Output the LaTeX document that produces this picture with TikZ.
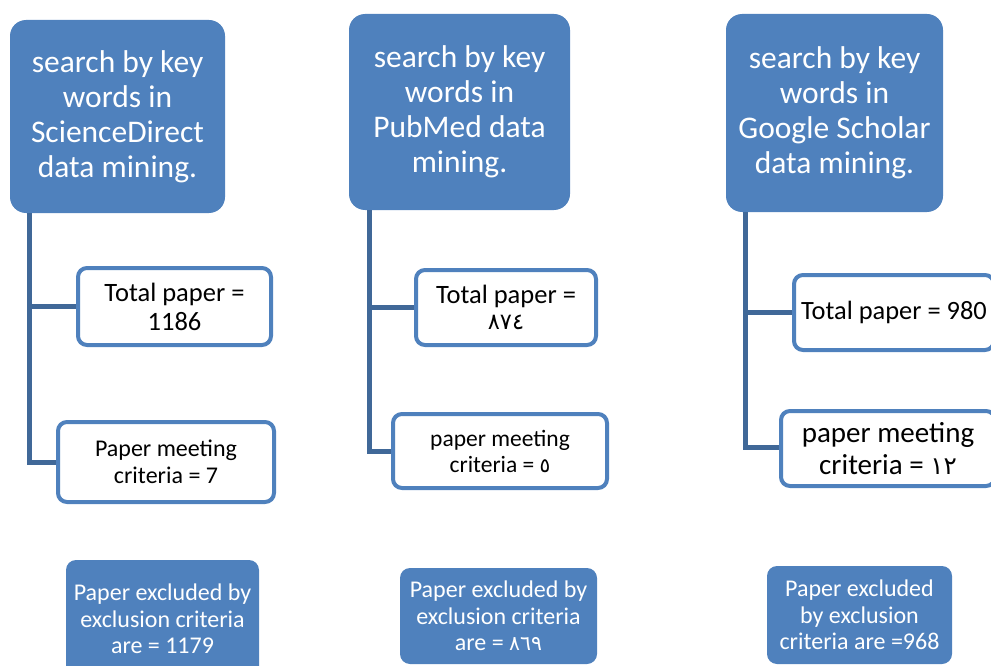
\documentclass[tikz,border=0pt]{standalone}
\usepackage{fontspec}
\setmainfont{Carlito}
\newfontfamily\arabicfont[Script=Arabic,Scale=0.85]{DejaVu Sans}
\newcommand{\ar}[1]{{\arabicfont #1}}
\definecolor{boxblue}{RGB}{79,129,189}
\definecolor{linkblue}{RGB}{64,104,152}
\tikzset{
  topbox/.style={fill=boxblue, draw=none, rounded corners=16pt, text=white, align=center, inner sep=0pt,
    font=\fontsize{31.5}{35}\selectfont},
  whitebox/.style={fill=white, draw=boxblue, line width=4pt, rounded corners=9pt, text=black, align=center, inner sep=0pt},
  exbox/.style={fill=boxblue, draw=none, rounded corners=10pt, text=white, align=center, inner sep=0pt,
    font=\fontsize{24}{26.5}\selectfont},
  conn/.style={draw=linkblue, line width=5pt}
}
\begin{document}
\begin{tikzpicture}[x=1pt,y=-1pt]
\useasboundingbox (0,0) rectangle (991,666);
\clip (0,0) rectangle (991,666);
% top boxes
\node[topbox, minimum width=215, minimum height=193] (t1) at (117.5,116.5) {search by key\\words in\\ScienceDirect\\data mining.};
\node[topbox, minimum width=221, minimum height=196] (t2) at (459.5,112) {search by key\\words in\\PubMed data\\mining.};
\node[topbox, minimum width=217, minimum height=198] (t3) at (834.5,113) {search by key\\words in\\Google Scholar\\data mining.};
% white boxes
\node[whitebox, minimum width=193, minimum height=77, font=\fontsize{26.5}{29}\selectfont] (tp1) at (174.5,306.5) {Total paper =\\1186};
\node[whitebox, minimum width=216, minimum height=80, font=\fontsize{24}{27}\selectfont] (pm1) at (166,462) {Paper meeting\\criteria = 7};
\node[whitebox, minimum width=180, minimum height=75, font=\fontsize{26.5}{26}\selectfont] (tp2) at (506,307.5) {Total paper =\\\ar{٨٧٤}};
\node[whitebox, minimum width=214, minimum height=74, font=\fontsize{23.5}{26}\selectfont] (pm2) at (500,451) {paper meeting\\criteria = \ar{٥}};
\node[whitebox, minimum width=200, minimum height=75, font=\fontsize{26.4}{30}\selectfont] (tp3) at (894,312.5) {Total paper = 980};
\node[whitebox, minimum width=214, minimum height=75, font=\fontsize{29}{32}\selectfont] (pm3) at (888,448.5) {paper meeting\\criteria = \ar{١٢}};
% connectors
\draw[conn] ([xshift=20pt]t1.south west) |- (tp1.west);
\draw[conn] ([xshift=20pt]t1.south west) |- (pm1.west);
\draw[conn] ([xshift=21pt]t2.south west) |- (tp2.west);
\draw[conn] ([xshift=21pt]t2.south west) |- (pm2.west);
\draw[conn] ([xshift=20pt]t3.south west) |- (tp3.west);
\draw[conn] ([xshift=20pt]t3.south west) |- ([yshift=1.5pt]pm3.west);
% exclusion boxes
\node[exbox, minimum width=193, minimum height=118] (b1) at (162.5,619) {Paper excluded by\\exclusion criteria\\are = 1179};
\node[exbox, minimum width=197, minimum height=96] (b2) at (498.5,616) {Paper excluded by\\exclusion criteria\\are = \ar{٨٦٩}};
\node[exbox, minimum width=185, minimum height=98] (b3) at (859.5,615) {Paper excluded\\by exclusion\\criteria are =968};
\end{tikzpicture}
\end{document}
